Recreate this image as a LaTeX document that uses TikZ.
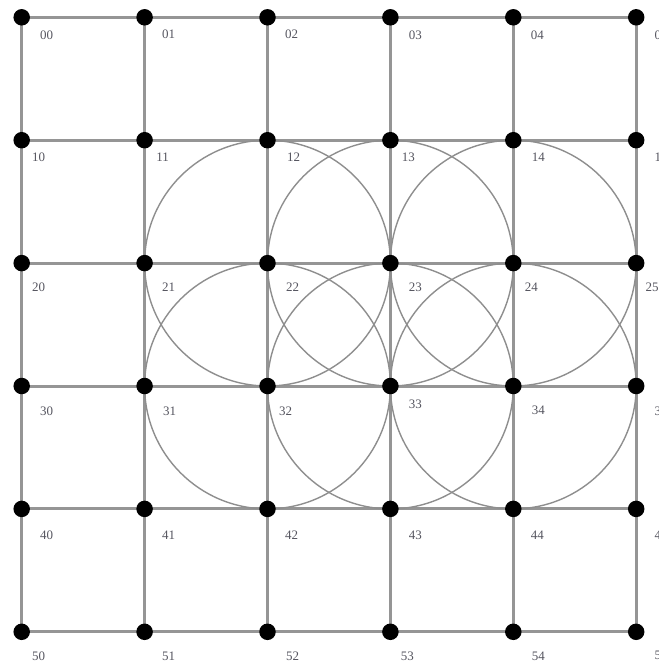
\documentclass[tikz,border=0pt]{standalone}
\usepackage{fontspec}
\setmainfont{Liberation Serif}
\usetikzlibrary{backgrounds}
\definecolor{gridc}{HTML}{959595}
\definecolor{ringc}{HTML}{8E8E8E}
\definecolor{labc}{HTML}{55555F}
\begin{document}
\begin{tikzpicture}[x=122.9bp,y=-122.9bp,
  dot/.style={circle,fill=black,inner sep=0pt,minimum size=16.5bp},
  gridline/.style={draw=gridc,line width=3bp},
  ring/.style={draw=ringc,line width=1.4bp},
  lab/.style={font=\fontsize{13}{13}\selectfont,text=labc,inner sep=0pt}]
\useasboundingbox (-21.7bp,17.3bp) rectangle (637.3bp,-645.7bp);
% grid points
\foreach \r in {0,...,5}{
  \foreach \c in {0,...,5}{
    \node[dot] (n\r\c) at (\c,\r) {};
  }
}
\begin{scope}[on background layer]
% horizontal lines
\foreach \r in {0,...,5}{
  \foreach \c [evaluate=\c as \d using int(\c+1)] in {0,...,4}{
    \draw[gridline] (n\r\c.center) -- (n\r\d.center);
  }
}
% vertical lines
\foreach \c in {0,...,5}{
  \foreach \r [evaluate=\r as \s using int(\r+1)] in {0,...,4}{
    \draw[gridline] (n\r\c.center) -- (n\s\c.center);
  }
}
% circles
\foreach \p in {22,23,24,32,33,34}{
  \draw[ring] (n\p.center) circle[radius=122.9bp];
}
\end{scope}
% labels
\foreach \r/\c/\dx/\dy in {
  0/0/25/18, 0/1/24/17, 0/2/24/17, 0/3/25/18, 0/4/24/18, 0/5/25/18,
  1/0/17/17, 1/1/18/17, 1/2/26/17, 1/3/18/17, 1/4/25/17, 1/5/25/17,
  2/0/17/24, 2/1/24/24, 2/2/25/24, 2/3/25/24, 2/4/18/24, 2/5/16/24,
  3/0/25/25, 3/1/25/25, 3/2/18/25, 3/3/25/18, 3/4/25/24, 3/5/25/25,
  4/0/25/26, 4/1/24/26, 4/2/24/26, 4/3/25/26, 4/4/24/26, 4/5/25/26,
  5/0/17/24, 5/1/24/24, 5/2/25/24, 5/3/17/24, 5/4/25/24, 5/5/25/24}{
  \node[lab,xshift=\dx bp,yshift=-\dy bp] (l\r\c) at (n\r\c) {\r\c};
}
\end{tikzpicture}
\end{document}
